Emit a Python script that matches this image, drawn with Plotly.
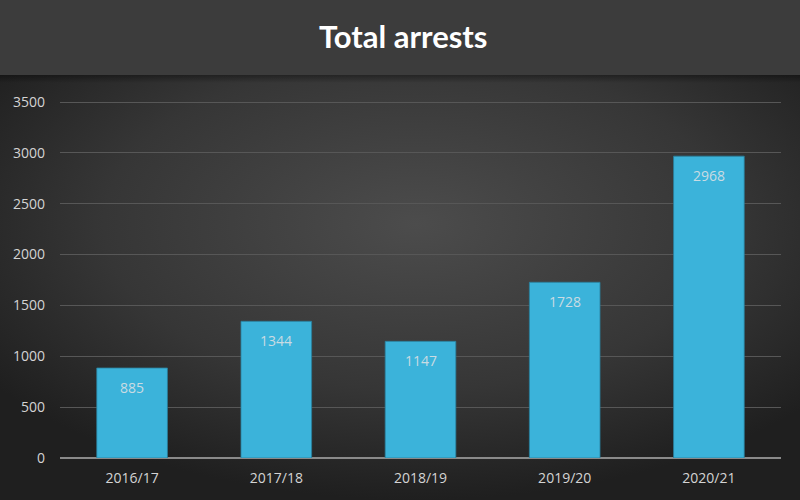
import base64
import plotly.graph_objects as go

years = ["2016/17", "2017/18", "2018/19", "2019/20", "2020/21"]
arrests = [885, 1344, 1147, 1728, 2968]
y_ticks = [0, 500, 1000, 1500, 2000, 2500, 3000, 3500]

W, H = 800, 500
L, R, T, B = 60, 19, 100, 42
pw, ph = W - L - R, H - T - B

svg = f'''<svg xmlns="http://www.w3.org/2000/svg" width="800" height="425" viewBox="0 0 800 425">
<defs>
<radialGradient id="g" cx="52%" cy="35%" r="65%" gradientUnits="objectBoundingBox">
<stop offset="0" stop-color="#4c4c4c"/>
<stop offset="0.6" stop-color="#363636"/>
<stop offset="1" stop-color="#1f1f1f"/>
</radialGradient>
<linearGradient id="s" x1="0" y1="0" x2="0" y2="1">
<stop offset="0" stop-color="#000" stop-opacity="0.35"/>
<stop offset="1" stop-color="#000" stop-opacity="0"/>
</linearGradient>
</defs>
<rect width="800" height="425" fill="url(#g)"/>
<rect width="800" height="8" fill="url(#s)"/>
</svg>'''
src = "data:image/svg+xml;base64," + base64.b64encode(svg.encode()).decode()

fig = go.Figure()
fig.add_trace(go.Bar(
    x=years, y=arrests,
    marker=dict(color="#3bb3da", line=dict(color="#2a7f9c", width=0.8)),
    hoverinfo="skip",
))

for yr, v in zip(years, arrests):
    fig.add_annotation(x=yr, y=v, text=str(v), showarrow=False,
                       yanchor="top", yshift=-8,
                       font=dict(family="Open Sans, sans-serif", size=14, color="#c9dbe3"))

fig.add_layout_image(dict(
    source=src, xref="paper", yref="paper",
    x=-L / pw, y=(H - B - 75) / ph, sizex=W / pw, sizey=(H - 75) / ph,
    xanchor="left", yanchor="top", sizing="stretch", layer="below",
))

fig.update_layout(
    width=W, height=H,
    margin=dict(l=L, r=R, t=T, b=B),
    paper_bgcolor="#3c3c3c",
    plot_bgcolor="rgba(0,0,0,0)",
    showlegend=False,
    bargap=0.51,
    title=dict(text="<b>Total arrests</b>", x=0.504, xanchor="center",
               y=1 - 37 / H, yanchor="middle", yref="container",
               font=dict(family="Lato, sans-serif", size=31, color="#ffffff")),
    xaxis=dict(showgrid=False, showline=False, ticks="",
               ticklabelstandoff=10,
               tickfont=dict(family="Open Sans, sans-serif", size=14, color="#d4d4d4")),
    yaxis=dict(range=[0, 3520], tickvals=y_ticks, showgrid=True,
               gridcolor="#575757", gridwidth=1, zeroline=True,
               zerolinecolor="#8a8a8a", zerolinewidth=2, ticks="",
               ticklabelstandoff=14,
               tickfont=dict(family="Open Sans, sans-serif", size=14, color="#d4d4d4")),
)

fig.write_html("out.html", config={"displayModeBar": False},
               post_script="document.body.style.margin='0';")
